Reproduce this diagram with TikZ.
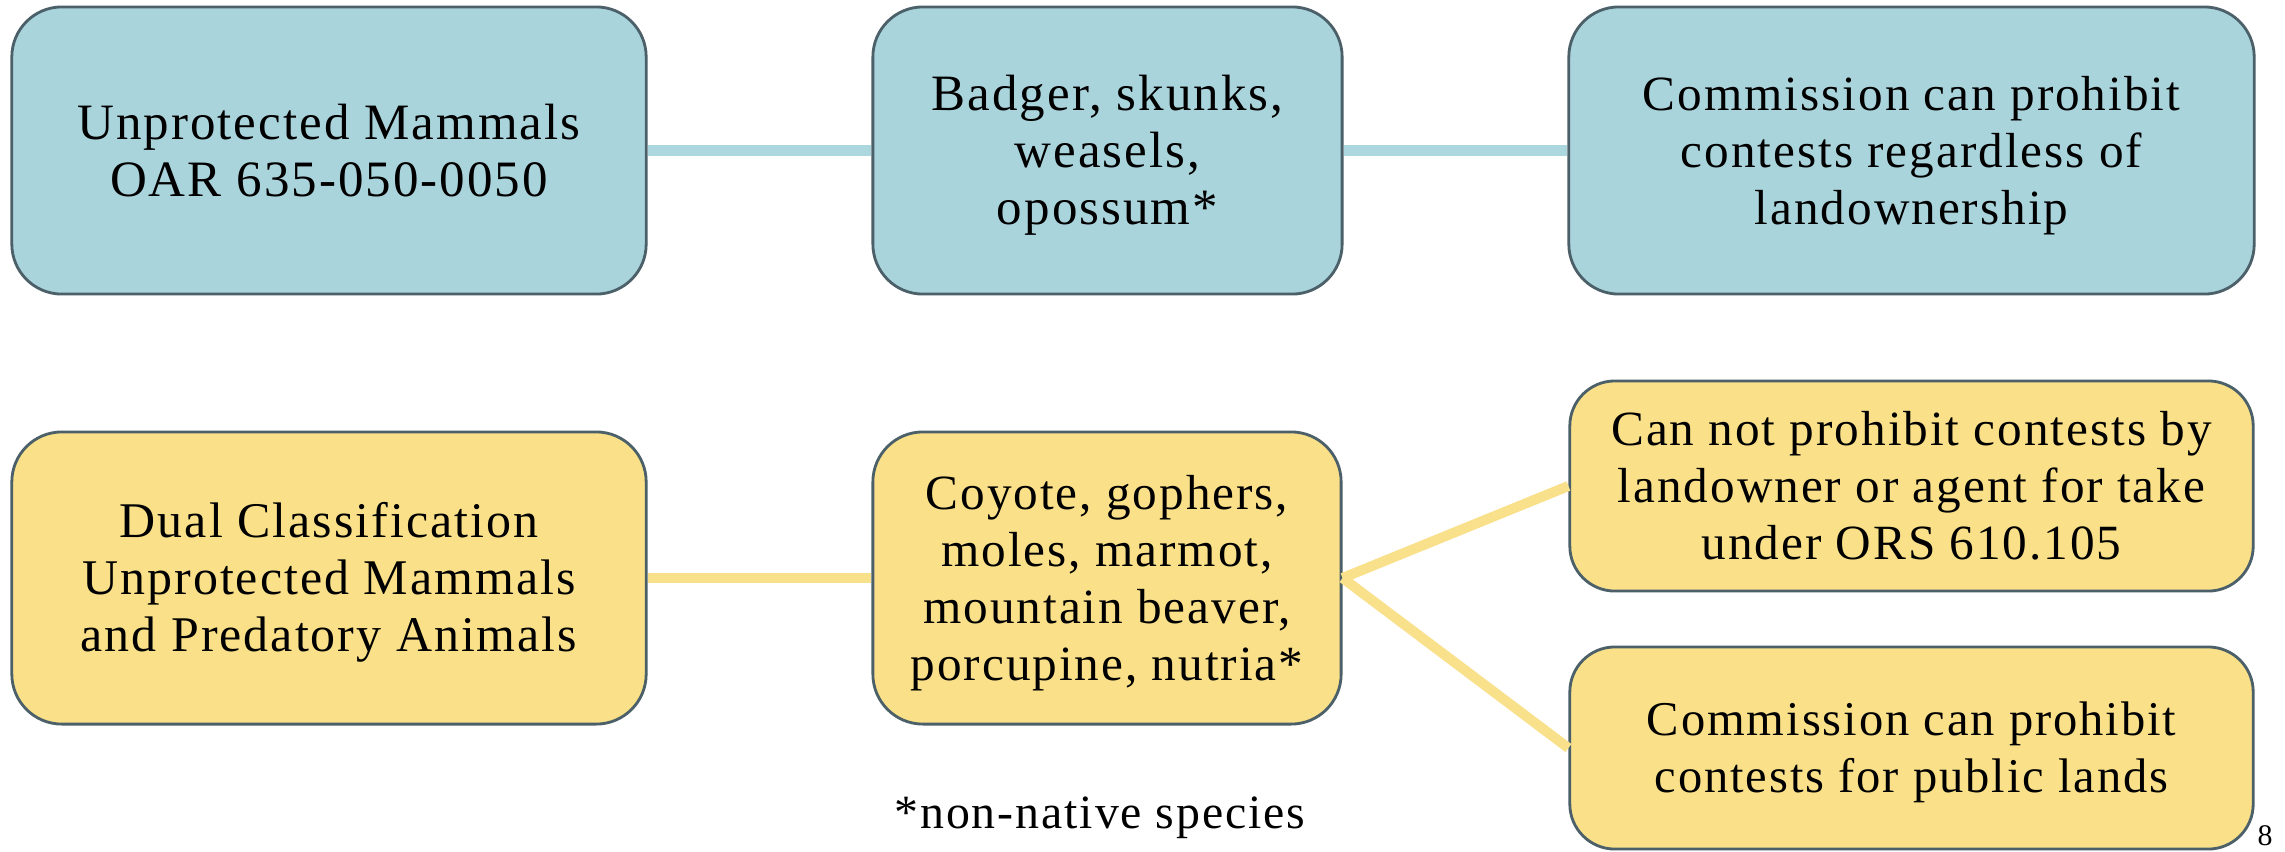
\documentclass[tikz,border=0pt]{standalone}
\usepackage{fontspec}
\setmainfont{Liberation Serif}[LetterSpace=4]
\definecolor{bfill}{HTML}{AAD4DC}
\definecolor{bline}{HTML}{ACD7DF}
\definecolor{yfill}{HTML}{F9E089}
\definecolor{yline}{HTML}{F9E08A}
\definecolor{edge}{HTML}{4B6068}
\newcommand\mystrut{\rule[-0.216em]{0pt}{1.107em}}
\tikzset{
  box/.style={draw=edge, line width=0.8pt, align=center, inner sep=0pt,
    font=\fontsize{14}{16.2}\selectfont},
  bigtext/.style={font=\fontsize{14.5}{16.2}\selectfont},
  bluebox/.style={box, fill=bfill, rounded corners=0.5cm},
  yelbox/.style={box, fill=yfill, rounded corners=0.5cm},
  bconn/.style={draw=bline, line width=2.85pt},
  yconn/.style={draw=yline, line width=2.85pt},
}
\begin{document}
\begin{tikzpicture}[x=0.01cm, y=-0.01cm]
\useasboundingbox (0,0) rectangle (2285,851);
\fill[white] (0,0) rectangle (2285,851);
% top row
\node[bluebox, bigtext, minimum width=6.34cm, minimum height=2.87cm] (b1) at (329,150.5)
  {\mystrut Unprotected Mammals\\\mystrut OAR 635-050-0050};
\node[bluebox, bigtext, minimum width=4.69cm, minimum height=2.87cm] (b2) at (1107.5,150.5)
  {\mystrut Badger, skunks,\\\mystrut weasels,\\\mystrut opossum*};
\node[bluebox, minimum width=6.85cm, minimum height=2.87cm] (b3) at (1911.5,150.5)
  {\mystrut Commission can prohibit\\\mystrut contests regardless of\\\mystrut landownership};
% bottom rows
\node[yelbox, font=\fontsize{14.2}{16.2}\selectfont, minimum width=6.34cm, minimum height=2.92cm] (b4) at (329,578)
  {\mystrut Dual Classification\\\mystrut Unprotected Mammals\\\mystrut and Predatory Animals};
\node[yelbox, minimum width=4.68cm, minimum height=2.92cm] (b5) at (1107,578)
  {\mystrut Coyote, gophers,\\\mystrut moles, marmot,\\\mystrut mountain beaver,\\\mystrut porcupine, nutria*};
\node[yelbox, minimum width=6.83cm, minimum height=2.10cm, rounded corners=0.45cm] (b6) at (1911.5,486)
  {\mystrut Can not prohibit contests by\\\mystrut landowner or agent for take\\\mystrut under ORS 610.105};
\node[yelbox, font=\fontsize{13.8}{16.2}\selectfont, minimum width=6.83cm, minimum height=2.02cm, rounded corners=0.45cm] (b7) at (1911.5,748)
  {\mystrut Commission can prohibit\\\mystrut contests for public lands};
% connectors
\draw[bconn] (b1.east) -- (b2.west);
\draw[bconn] (b2.east) -- (b3.west);
\draw[yconn] (b4.east) -- (b5.west);
\draw[yconn] (b5.east) -- (b6.west);
\draw[yconn] (b5.east) -- (b7.west);
% footnote and page number
\node[font=\fontsize{13.6}{16.2}\selectfont, anchor=base, inner sep=0pt] (fn) at (1100,828) {*non-native species};
\node[font=\fontsize{8.5}{10}\selectfont, anchor=base west, inner sep=0pt] (pg) at (2257,845) {8};
\end{tikzpicture}
\end{document}
